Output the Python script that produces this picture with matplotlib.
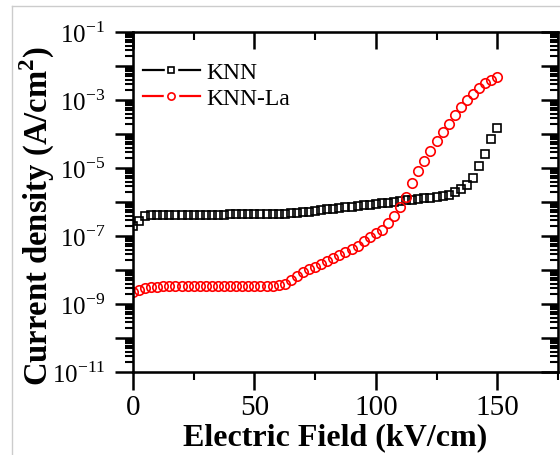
import numpy as np
import matplotlib
matplotlib.use('Agg')
import matplotlib.pyplot as plt
from matplotlib.lines import Line2D
from matplotlib.legend_handler import HandlerTuple
from matplotlib.ticker import LogLocator, MultipleLocator, FuncFormatter, NullFormatter

plt.rcParams['font.family'] = 'Liberation Serif'
plt.rcParams['mathtext.fontset'] = 'custom'
plt.rcParams['mathtext.rm'] = 'Liberation Serif'
plt.rcParams['mathtext.bf'] = 'Liberation Serif:bold'

# electric field (kV/cm), same grid for both samples
field = np.arange(0, 150.1, 2.5)

# log10 of current density (A/cm^2)
knn_log = [-6.70, -6.55, -6.42, -6.38,
           -6.37, -6.37, -6.37, -6.37, -6.37, -6.37, -6.37, -6.37, -6.37, -6.37,
           -6.37, -6.37, -6.36, -6.36, -6.36, -6.36, -6.36, -6.36, -6.36,
           -6.36, -6.35, -6.34, -6.33, -6.32, -6.30, -6.28, -6.26, -6.24, -6.22,
           -6.20, -6.18, -6.16, -6.14, -6.12, -6.10, -6.08, -6.06, -6.04, -6.02,
           -6.00, -5.98, -5.95, -5.93, -5.91, -5.89, -5.87, -5.85, -5.83, -5.80,
           -5.72, -5.63, -5.50, -5.30, -4.95, -4.60, -4.15, -3.82]
knn_la_log = [-8.65, -8.58, -8.53, -8.50, -8.49,
              -8.48, -8.48, -8.48, -8.48, -8.47, -8.47, -8.47, -8.47, -8.47,
              -8.47, -8.47, -8.46, -8.46, -8.46, -8.46, -8.46, -8.46, -8.46,
              -8.46, -8.44, -8.40, -8.30, -8.18, -8.07, -7.97, -7.90, -7.83,
              -7.74, -7.65, -7.56, -7.47, -7.38, -7.28, -7.15, -7.02, -6.92,
              -6.82, -6.62, -6.42, -6.15, -5.85, -5.45, -5.10, -4.80, -4.50,
              -4.20, -3.95, -3.72, -3.45, -3.20, -3.00, -2.82, -2.65, -2.50,
              -2.40, -2.32]

knn = 10.0 ** np.array(knn_log)
knn_la = 10.0 ** np.array(knn_la_log)

fig = plt.figure(figsize=(5.6, 4.56), dpi=100)
ax = fig.add_axes([0.2375, 0.182, 0.7589, 0.7456])

ax.plot(field, knn, ls='none', marker='s', ms=5.5, mfc='none', mec='black', mew=1.2)
ax.plot(field, knn_la, ls='none', marker='o', ms=6.8, mfc='none', mec='red', mew=1.2)

ax.set_xlim(0, 175)
ax.set_yscale('log')
ax.set_ylim(1e-11, 1e-1)
ax.xaxis.set_major_locator(MultipleLocator(50))
ax.xaxis.set_minor_locator(MultipleLocator(25))
ax.yaxis.set_major_locator(LogLocator(base=10, numticks=20))
ax.yaxis.set_minor_locator(LogLocator(base=10, subs=np.arange(2, 10), numticks=100))
ax.yaxis.set_minor_formatter(NullFormatter())


def ylab(v, pos):
    e = int(round(np.log10(v)))
    return r'$10^{%d}$' % e if e % 2 == 1 else ''


ax.yaxis.set_major_formatter(FuncFormatter(ylab))

for s in ax.spines.values():
    s.set_linewidth(1.8)
ax.tick_params(which='major', direction='out', length=13, width=1.8)
ax.tick_params(which='minor', direction='out', length=5.5, width=1.5)
ax.tick_params(axis='x', which='major', labelsize=21, pad=3)
ax.tick_params(axis='y', which='major', labelsize=18, pad=7)

# inward ticks on top and right
axt = ax.twiny()
axt.set_xlim(ax.get_xlim())
axt.xaxis.set_major_locator(MultipleLocator(50))
axt.xaxis.set_minor_locator(MultipleLocator(25))
axt.tick_params(which='major', direction='in', length=12, width=1.8, labeltop=False)
axt.tick_params(which='minor', direction='in', length=6, width=1.5)
axr = ax.twinx()
axr.set_yscale('log')
axr.set_ylim(ax.get_ylim())
axr.yaxis.set_major_locator(LogLocator(base=10, numticks=20))
axr.yaxis.set_minor_locator(LogLocator(base=10, subs=np.arange(2, 10), numticks=100))
axr.tick_params(which='major', direction='in', length=12, width=1.8, labelright=False)
axr.tick_params(which='minor', direction='in', length=6, width=1.5, labelright=False)

ax.set_xlabel('Electric Field (kV/cm)', fontsize=23, fontweight='bold')
ax.xaxis.set_label_coords(0.475, -0.148)
ax.set_ylabel(r'Current density (A/cm$^\mathbf{2}$)', fontsize=23.5, fontweight='bold')
ax.yaxis.set_label_coords(-0.178, 0.46)


def legend_key(color, marker, ms):
    line = Line2D([], [], color=color, lw=1.6)
    gap = Line2D([], [], ls='none', marker=marker, ms=ms + 5, mfc='white', mec='white')
    mark = Line2D([], [], ls='none', marker=marker, ms=ms, mfc='none', mec=color, mew=1.2)
    return (line, gap, mark)


handles = [legend_key('black', 's', 4.2), legend_key('red', 'o', 5.2)]
ax.legend(handles, ['KNN', 'KNN-La'], loc='upper left', bbox_to_anchor=(-0.01, 0.955),
          frameon=False, fontsize=17, handlelength=2.4, handletextpad=0.3,
          labelspacing=0.2, borderaxespad=0.2,
          handler_map={tuple: HandlerTuple(ndivide=1)})

# light frame of the original screenshot
fig.add_artist(Line2D([12 / 560, 12 / 560], [0, 1 - 7 / 456], color='#cccccc', lw=1))
fig.add_artist(Line2D([12 / 560, 1], [1 - 7 / 456, 1 - 7 / 456], color='#cccccc', lw=1))

fig.savefig('out.png', dpi=100)
